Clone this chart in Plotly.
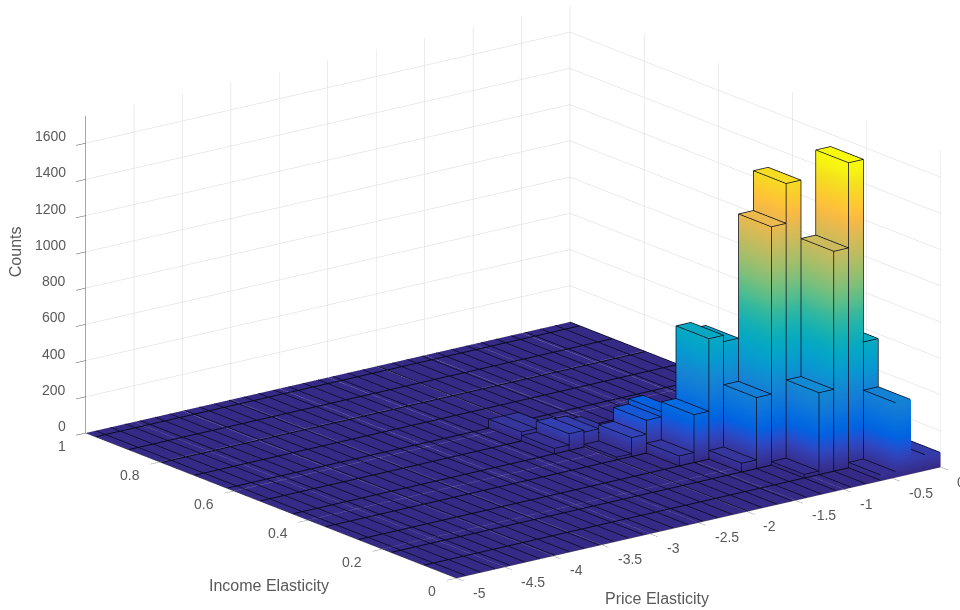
import math
import plotly.graph_objects as go

# --- data ---
price_ticks = [-5, -4.5, -4, -3.5, -3, -2.5, -2, -1.5, -1, -0.5, 0]
income_ticks = [0, 0.2, 0.4, 0.6, 0.8, 1]
count_ticks = [0, 200, 400, 600, 800, 1000, 1200, 1400, 1600]
PRICE_BIN_WIDTH = 0.153
INCOME_BIN_WIDTH = 0.0885
# price bin counted leftward from price 0, income bin counted upward from income 0
bar_price_bin = [2, 1, 0, 3, 5, 4, 3, 2, 6, 5, 6, 7, 8, 10, 9, 8, 7, 9, 10, 11, 12, 13, 12, 11, 14, 14, 13]
bar_income_bin = [0, 0, 0, 0, 1, 1, 1, 1, 1, 2, 2, 2, 2, 3, 3, 3, 3, 4, 4, 4, 4, 5, 5, 5, 5, 6, 6]
bar_counts = [410, 85, 80, 30, 452, 1214, 1684, 676, 20, 1536, 1316, 392, 48, 55, 264, 665, 630, 210, 181, 104, 15, 92, 82, 60, 30, 50, 50]

P = [(.2081,.1663,.5292),(.2123,.2138,.6270),(.1959,.2645,.7279),(.1253,.3242,.8303),(.0117,.3875,.8820),
     (.0165,.4266,.8786),(.0498,.4586,.8641),(.0723,.4887,.8467),(.0793,.5200,.8312),(.0641,.5570,.8240),
     (.0343,.5966,.8199),(.0239,.6287,.8038),(.0228,.6535,.7768),(.0384,.6743,.7436),(.0843,.6928,.7062),
     (.1453,.7098,.6646),(.2178,.7250,.6193),(.3022,.7376,.5712),(.3953,.7459,.5244),(.4871,.7491,.4840),
     (.5709,.7485,.4494),(.6473,.7456,.4188),(.7184,.7411,.3905),(.7858,.7356,.3633),(.8507,.7299,.3360),
     (.9139,.7258,.3063),(.9739,.7314,.2666),(.9990,.7653,.2164),(.9880,.8066,.1794),(.9697,.8481,.1475),
     (.9589,.8949,.1132),(.9661,.9514,.0755),(.9763,.9831,.0538)]
PARULA = [[i / (len(P) - 1), 'rgb(%d,%d,%d)' % (r * 255, g * 255, b * 255)] for i, (r, g, b) in enumerate(P)]

ZMAX = 1750
AR = 2.0
ASPECT_Z = 0.5447 * AR
el = math.radians(17.43); c = 0.6077; d = 0.794
D = 4.0
ex, ey, ez = -c * math.cos(el), -d * math.cos(el), math.sin(el)
# small lift of the edge lines toward the viewer so they stay in front of the faces
eps = 0.006
lift = (eps * ex * 5 / AR, eps * ey * 1 / AR, eps * ez * ZMAX / ASPECT_Z)

vx, vy, vz, vc, I, J, K = [], [], [], [], [], [], []
vx += [-5, 0, 0, -5]; vy += [0, 0, 1, 1]; vz += [0, 0, 0, 0]; vc += [0, 0, 0, 0]
I += [0, 0]; J += [1, 2]; K += [2, 3]

def seg(store, a, b):
    store[0].extend([a[0] + lift[0], b[0] + lift[0], None])
    store[1].extend([a[1] + lift[1], b[1] + lift[1], None])
    store[2].extend([a[2] + lift[2], b[2] + lift[2], None])

strip = ([], [], [])
cross = ([], [], [])
edges = ([], [], [])

n = 0
while -n * PRICE_BIN_WIDTH >= -5:
    p = -n * PRICE_BIN_WIDTH
    seg(strip, (p, 0, 0), (p, 1, 0))
    n += 1
n = 0
while n * INCOME_BIN_WIDTH <= 1:
    q = n * INCOME_BIN_WIDTH
    seg(cross, (-5, q, 0), (0, q, 0))
    n += 1

for a, b, h in zip(bar_price_bin, bar_income_bin, bar_counts):
    x1 = -a * PRICE_BIN_WIDTH
    x0 = x1 - PRICE_BIN_WIDTH
    y0, y1 = b * INCOME_BIN_WIDTH, (b + 1) * INCOME_BIN_WIDTH
    s = len(vx)
    for z in (0, h):
        vx += [x0, x1, x1, x0]; vy += [y0, y0, y1, y1]; vz += [z] * 4; vc += [z] * 4
    faces = [(0,1,5),(0,5,4),(1,2,6),(1,6,5),(2,3,7),(2,7,6),(3,0,4),(3,4,7),(4,5,6),(4,6,7)]
    for f in faces:
        I.append(s + f[0]); J.append(s + f[1]); K.append(s + f[2])
    cs = [(x0,y0),(x1,y0),(x1,y1),(x0,y1)]
    for m in range(4):
        seg(edges, (*cs[m], h), (*cs[(m+1)%4], h))
        seg(edges, (*cs[m], 0), (*cs[m], h))

fig = go.Figure()
fig.add_trace(go.Mesh3d(x=vx, y=vy, z=vz, i=I, j=J, k=K, intensity=vc, colorscale=PARULA,
                        cmin=0, cmax=1680, showscale=False, flatshading=True,
                        lighting=dict(ambient=1, diffuse=0, specular=0, roughness=1, fresnel=0)))
for store, w in ((strip, 1.5), (cross, 2), (edges, 1.5)):
    fig.add_trace(go.Scatter3d(x=store[0], y=store[1], z=store[2], mode='lines',
                               line=dict(color='rgb(10,10,30)', width=w), showlegend=False))

# move the box on the page: pixels right / up
k_px = 306
shift_r, shift_u = 33.25, 13.5
rv = (d, -c, 0); sv = (math.sin(el) * c, math.sin(el) * d, math.cos(el))
cx = -(shift_r * rv[0] + shift_u * sv[0]) / k_px
cy = -(shift_r * rv[1] + shift_u * sv[1]) / k_px
cz = -(shift_r * rv[2] + shift_u * sv[2]) / k_px

tick_font = dict(color='#595959', size=14, family='Liberation Sans')
title_font = dict(color='#595959', size=16, family='Liberation Sans')
grid = '#d8d8d8'
ax = dict(showbackground=False, gridcolor=grid, gridwidth=1, showspikes=False, showline=True, linecolor='#505050', linewidth=1,
          zeroline=True, zerolinecolor=grid, zerolinewidth=1, ticks='outside', ticklen=12, tickwidth=1, tickcolor='#505050',
          showticklabels=False, title=dict(text=''))

def fmt(v):
    return ('%g' % v)

labels = []
for v in price_ticks:
    labels.append(dict(x=v, y=0, z=0, text=fmt(v), showarrow=False, xanchor='left', yanchor='middle',
                       xshift=14.5, yshift=-14.5, font=tick_font))
for v in income_ticks:
    labels.append(dict(x=-5, y=v, z=0, text=fmt(v), showarrow=False, xanchor='right', yanchor='middle',
                       xshift=-18, yshift=-12.7, font=tick_font))
for v in count_ticks:
    labels.append(dict(x=-5, y=1, z=v, text=fmt(v), showarrow=False, xanchor='right', yanchor='middle',
                       xshift=-18, yshift=7, font=tick_font))

fig.update_layout(
    width=960, height=610, margin=dict(l=0, r=0, t=0, b=0), paper_bgcolor='white',
    scene=dict(
        domain=dict(x=[0, 1], y=[0, 1]),
        xaxis=dict(ax, range=[-5, 0], tickvals=price_ticks),
        yaxis=dict(ax, range=[0, 1], tickvals=income_ticks),
        zaxis=dict(ax, range=[0, ZMAX], tickvals=count_ticks),
        aspectmode='manual', aspectratio=dict(x=AR, y=AR, z=ASPECT_Z),
        camera=dict(projection=dict(type='orthographic'), up=dict(x=0, y=0, z=1),
                    center=dict(x=cx, y=cy, z=cz), eye=dict(x=cx + D*ex, y=cy + D*ey, z=cz + D*ez)),
        annotations=labels,
    ),
    annotations=[
        dict(text='Counts', x=15.7/960, y=1-251.5/610, xref='paper', yref='paper', showarrow=False, textangle=-90,
             xanchor='center', yanchor='middle', font=title_font),
        dict(text='Income Elasticity', x=269/960, y=1-585/610, xref='paper', yref='paper', showarrow=False,
             xanchor='center', yanchor='middle', font=title_font),
        dict(text='Price Elasticity', x=657/960, y=1-598/610, xref='paper', yref='paper', showarrow=False,
             xanchor='center', yanchor='middle', font=title_font),
    ],
)
fig.write_html('out.html', config=dict(displayModeBar=False),
               post_script="document.body.style.margin='0px';document.body.style.overflow='hidden';")
